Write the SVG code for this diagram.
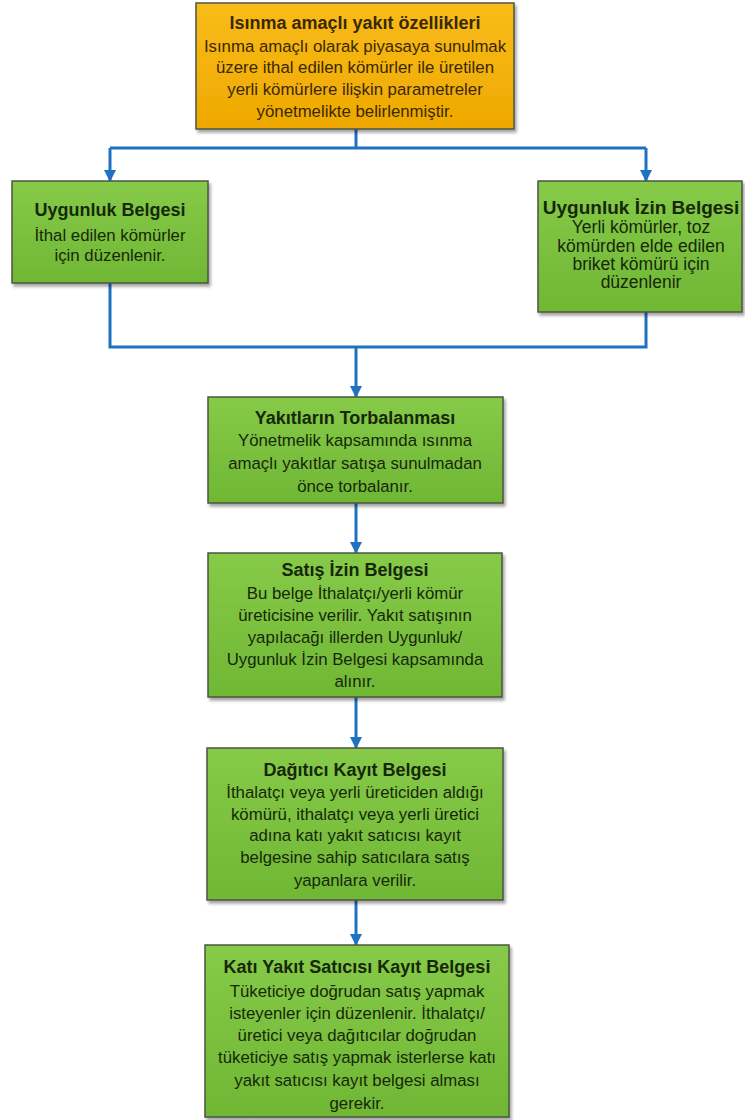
<svg xmlns="http://www.w3.org/2000/svg" width="745" height="1120" viewBox="0 0 745 1120">
<defs>
<linearGradient id="gGreen" x1="0" y1="0" x2="0" y2="1">
<stop offset="0" stop-color="#86ca48"/>
<stop offset="1" stop-color="#70b735"/>
</linearGradient>
<linearGradient id="gOrange" x1="0" y1="0" x2="0" y2="1">
<stop offset="0" stop-color="#f9bc1a"/>
<stop offset="1" stop-color="#eea800"/>
</linearGradient>
<filter id="sh" x="-5%" y="-5%" width="115%" height="120%">
<feDropShadow dx="2" dy="3" stdDeviation="1.5" flood-color="#000" flood-opacity="0.35"/>
</filter>
<marker id="arr" viewBox="0 0 12 12" refX="11" refY="6" markerWidth="12" markerHeight="13" markerUnits="userSpaceOnUse" orient="auto">
<path d="M0,0 L12,6 L0,12 z" fill="#1f72c0"/>
</marker>
<style>
.box{stroke:#4c5540;stroke-width:1.5;filter:url(#sh)}
.g{fill:url(#gGreen)}
.o{fill:url(#gOrange)}
text{font-family:"Liberation Sans",Arial,sans-serif;text-anchor:middle}
.t{font-weight:bold;font-size:18px}
.b{font-size:16.8px}
.tr{font-weight:bold;font-size:19px}
.br{font-size:17.5px}
.tg{fill:#17280a}
.to{fill:#3a2800}
.c{fill:none;stroke:#1f72c0;stroke-width:3}
</style>
</defs>
<rect width="745" height="1120" fill="#ffffff"/>

<g id="connectors">
<path class="c" d="M356,129 V148"/>
<path class="c" d="M110,148 H646"/>
<path class="c" d="M110,148 V181" marker-end="url(#arr)"/>
<path class="c" d="M646,148 V181" marker-end="url(#arr)"/>
<path class="c" d="M110,283 V347 H646 V312"/>
<path class="c" d="M356,347 V397" marker-end="url(#arr)"/>
<path class="c" d="M356,503 V553" marker-end="url(#arr)"/>
<path class="c" d="M356,697 V748" marker-end="url(#arr)"/>
<path class="c" d="M356,900 V945" marker-end="url(#arr)"/>
</g>

<g id="n-isinma">
<rect class="box o" x="196" y="3" width="318" height="126"/>
<text class="t to" x="355" y="29">Isınma amaçlı yakıt özellikleri</text>
<text class="b to" x="355" y="52">Isınma amaçlı olarak piyasaya sunulmak</text>
<text class="b to" x="355" y="73">üzere ithal edilen kömürler ile üretilen</text>
<text class="b to" x="355" y="95">yerli kömürlere ilişkin parametreler</text>
<text class="b to" x="355" y="117">yönetmelikte belirlenmiştir.</text>
</g>

<g id="n-uygunluk">
<rect class="box g" x="12" y="181" width="196" height="102"/>
<text class="t tg" x="110" y="216">Uygunluk Belgesi</text>
<text class="b tg" x="110" y="241">İthal edilen kömürler</text>
<text class="b tg" x="110" y="261">için düzenlenir.</text>
</g>

<g id="n-uygunluk-izin">
<rect class="box g" x="538" y="181" width="204" height="131"/>
<text class="tr tg" x="641" y="214">Uygunluk İzin Belgesi</text>
<text class="br tg" x="641" y="233">Yerli kömürler, toz</text>
<text class="br tg" x="641" y="252">kömürden elde edilen</text>
<text class="br tg" x="641" y="270">briket kömürü için</text>
<text class="br tg" x="641" y="288">düzenlenir</text>
</g>

<g id="n-torbalanma">
<rect class="box g" x="208" y="397" width="295" height="106"/>
<text class="t tg" x="355" y="424">Yakıtların Torbalanması</text>
<text class="b tg" x="355" y="446">Yönetmelik kapsamında ısınma</text>
<text class="b tg" x="355" y="469">amaçlı yakıtlar satışa sunulmadan</text>
<text class="b tg" x="355" y="492">önce torbalanır.</text>
</g>

<g id="n-satis-izin">
<rect class="box g" x="208" y="553" width="294" height="144"/>
<text class="t tg" x="355" y="576">Satış İzin Belgesi</text>
<text class="b tg" x="355" y="599">Bu belge İthalatçı/yerli kömür</text>
<text class="b tg" x="355" y="621">üreticisine verilir. Yakıt satışının</text>
<text class="b tg" x="355" y="643">yapılacağı illerden Uygunluk/</text>
<text class="b tg" x="355" y="665">Uygunluk İzin Belgesi kapsamında</text>
<text class="b tg" x="355" y="687">alınır.</text>
</g>

<g id="n-dagitici">
<rect class="box g" x="207" y="748" width="296" height="152"/>
<text class="t tg" x="355" y="776">Dağıtıcı Kayıt Belgesi</text>
<text class="b tg" x="355" y="798">İthalatçı veya yerli üreticiden aldığı</text>
<text class="b tg" x="355" y="820">kömürü, ithalatçı veya yerli üretici</text>
<text class="b tg" x="355" y="841">adına katı yakıt satıcısı kayıt</text>
<text class="b tg" x="355" y="863">belgesine sahip satıcılara satış</text>
<text class="b tg" x="355" y="886">yapanlara verilir.</text>
</g>

<g id="n-kati-yakit">
<rect class="box g" x="205" y="945" width="304" height="172"/>
<text class="t tg" x="357" y="973">Katı Yakıt Satıcısı Kayıt Belgesi</text>
<text class="b tg" x="357" y="997">Tüketiciye doğrudan satış yapmak</text>
<text class="b tg" x="357" y="1019">isteyenler için düzenlenir. İthalatçı/</text>
<text class="b tg" x="357" y="1041">üretici veya dağıtıcılar doğrudan</text>
<text class="b tg" x="357" y="1063">tüketiciye satış yapmak isterlerse katı</text>
<text class="b tg" x="357" y="1086">yakıt satıcısı kayıt belgesi alması</text>
<text class="b tg" x="357" y="1109">gerekir.</text>
</g>
</svg>
